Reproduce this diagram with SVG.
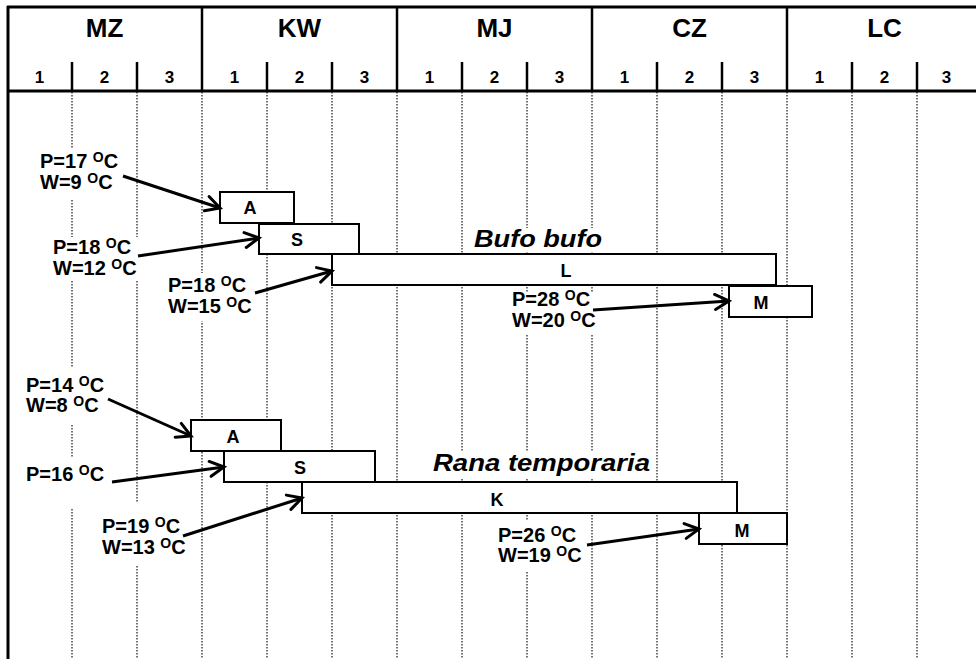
<svg xmlns="http://www.w3.org/2000/svg" width="976" height="659" viewBox="0 0 976 659">
  <style>
    .frame { stroke: #000; stroke-width: 3; fill: none; }
    .sep { stroke: #000; stroke-width: 2.5; }
    .grid { stroke: #444; stroke-width: 1.5; stroke-dasharray: 1.5 1.5; }
    .month { font-family: "Liberation Sans", Arial, sans-serif; font-weight: bold; font-size: 26px; text-anchor: middle; fill: #000; }
    .dec { font-family: "Liberation Sans", Arial, sans-serif; font-weight: bold; font-size: 17px; text-anchor: middle; fill: #000; }
    .box rect { fill: #fff; stroke: #000; stroke-width: 2; }
    .box text { font-family: "Liberation Sans", Arial, sans-serif; font-weight: bold; font-size: 18px; text-anchor: middle; fill: #000; }
    .note rect { fill: #fff; stroke: none; }
    .note text { font-family: "Liberation Sans", Arial, sans-serif; font-weight: bold; font-size: 20px; fill: #000; }
    .note .sup { font-size: 14px; }
    .species text { font-family: "Liberation Sans", Arial, sans-serif; font-weight: bold; font-style: italic; font-size: 24px; fill: #000; }
    .species rect { fill: #fff; }
    .conn line { stroke: #000; stroke-width: 3; marker-end: url(#head); }
  </style>
  <defs>
    <marker id="head" markerUnits="userSpaceOnUse" markerWidth="20" markerHeight="20" viewBox="0 0 20 20" refX="16" refY="10" orient="auto">
      <path d="M2,2.5 L16,10 L2,17.5" fill="none" stroke="#000" stroke-width="3" stroke-linecap="round" stroke-linejoin="miter"/>
    </marker>
  </defs>

  <rect width="976" height="659" fill="#fff"/>

  <!-- body grid: one dotted line per ten-day period -->
  <g id="grid">
    <line class="grid" x1="72" y1="92" x2="72" y2="659"/>
    <line class="grid" x1="137" y1="92" x2="137" y2="659"/>
    <line class="grid" x1="202" y1="92" x2="202" y2="659"/>
    <line class="grid" x1="267" y1="92" x2="267" y2="659"/>
    <line class="grid" x1="332" y1="92" x2="332" y2="659"/>
    <line class="grid" x1="397" y1="92" x2="397" y2="659"/>
    <line class="grid" x1="462" y1="92" x2="462" y2="659"/>
    <line class="grid" x1="527" y1="92" x2="527" y2="659"/>
    <line class="grid" x1="592" y1="92" x2="592" y2="659"/>
    <line class="grid" x1="657" y1="92" x2="657" y2="659"/>
    <line class="grid" x1="722" y1="92" x2="722" y2="659"/>
    <line class="grid" x1="787" y1="92" x2="787" y2="659"/>
    <line class="grid" x1="852" y1="92" x2="852" y2="659"/>
    <line class="grid" x1="917" y1="92" x2="917" y2="659"/>
  </g>

  <!-- header: months and decades -->
  <g id="header">
    <line class="frame" x1="7" y1="7" x2="976" y2="7"/>
    <line class="frame" x1="7" y1="91" x2="976" y2="91"/>
    <line class="frame" x1="8" y1="6" x2="8" y2="659"/>
    <line class="sep" x1="202" y1="7" x2="202" y2="91"/>
    <line class="sep" x1="397" y1="7" x2="397" y2="91"/>
    <line class="sep" x1="592" y1="7" x2="592" y2="91"/>
    <line class="sep" x1="787" y1="7" x2="787" y2="91"/>
    <line class="sep" x1="72" y1="62" x2="72" y2="91"/>
    <line class="sep" x1="137" y1="62" x2="137" y2="91"/>
    <line class="sep" x1="267" y1="62" x2="267" y2="91"/>
    <line class="sep" x1="332" y1="62" x2="332" y2="91"/>
    <line class="sep" x1="462" y1="62" x2="462" y2="91"/>
    <line class="sep" x1="527" y1="62" x2="527" y2="91"/>
    <line class="sep" x1="657" y1="62" x2="657" y2="91"/>
    <line class="sep" x1="722" y1="62" x2="722" y2="91"/>
    <line class="sep" x1="852" y1="62" x2="852" y2="91"/>
    <line class="sep" x1="917" y1="62" x2="917" y2="91"/>
    <text class="month" x="104.5" y="37">MZ</text>
    <text class="month" x="299.5" y="37">KW</text>
    <text class="month" x="494.5" y="37">MJ</text>
    <text class="month" x="689.5" y="37">CZ</text>
    <text class="month" x="884.5" y="37">LC</text>
    <text class="dec" x="39.5" y="83">1</text>
    <text class="dec" x="104.5" y="83">2</text>
    <text class="dec" x="169.5" y="83">3</text>
    <text class="dec" x="234.5" y="83">1</text>
    <text class="dec" x="299.5" y="83">2</text>
    <text class="dec" x="364.5" y="83">3</text>
    <text class="dec" x="429.5" y="83">1</text>
    <text class="dec" x="494.5" y="83">2</text>
    <text class="dec" x="559.5" y="83">3</text>
    <text class="dec" x="624.5" y="83">1</text>
    <text class="dec" x="689.5" y="83">2</text>
    <text class="dec" x="754.5" y="83">3</text>
    <text class="dec" x="819.5" y="83">1</text>
    <text class="dec" x="884.5" y="83">2</text>
    <text class="dec" x="946.5" y="83">3</text>
  </g>

  <!-- temperature notes -->
  <g id="note-bufo-a" class="note">
    <rect x="36" y="148" width="86" height="51"/>
    <text x="40" y="168">P=17 <tspan class="sup" dy="-6">O</tspan><tspan dy="6">C</tspan></text>
    <text x="40" y="189">W=9 <tspan class="sup" dy="-6">O</tspan><tspan dy="6">C</tspan></text>
  </g>
  <g id="note-bufo-s" class="note">
    <rect x="49" y="237" width="90" height="44"/>
    <text x="53" y="254">P=18 <tspan class="sup" dy="-6">O</tspan><tspan dy="6">C</tspan></text>
    <text x="53" y="275">W=12 <tspan class="sup" dy="-6">O</tspan><tspan dy="6">C</tspan></text>
  </g>
  <g id="note-bufo-l" class="note">
    <rect x="164" y="273" width="90" height="48"/>
    <text x="168" y="292">P=18 <tspan class="sup" dy="-6">O</tspan><tspan dy="6">C</tspan></text>
    <text x="168" y="313">W=15 <tspan class="sup" dy="-6">O</tspan><tspan dy="6">C</tspan></text>
  </g>
  <g id="note-bufo-m" class="note">
    <rect x="508" y="292" width="90" height="42"/>
    <text x="512" y="306">P=28 <tspan class="sup" dy="-6">O</tspan><tspan dy="6">C</tspan></text>
    <text x="512" y="327">W=20 <tspan class="sup" dy="-6">O</tspan><tspan dy="6">C</tspan></text>
  </g>
  <g id="note-rana-a" class="note">
    <rect x="22" y="368" width="86" height="56"/>
    <text x="26" y="392">P=14 <tspan class="sup" dy="-6">O</tspan><tspan dy="6">C</tspan></text>
    <text x="26" y="412">W=8 <tspan class="sup" dy="-6">O</tspan><tspan dy="6">C</tspan></text>
  </g>
  <g id="note-rana-s" class="note">
    <rect x="22" y="458" width="90" height="50"/>
    <text x="26" y="481">P=16 <tspan class="sup" dy="-6">O</tspan><tspan dy="6">C</tspan></text>
  </g>
  <g id="note-rana-k" class="note">
    <rect x="98" y="502" width="88" height="64"/>
    <text x="102" y="533">P=19 <tspan class="sup" dy="-6">O</tspan><tspan dy="6">C</tspan></text>
    <text x="102" y="554">W=13 <tspan class="sup" dy="-6">O</tspan><tspan dy="6">C</tspan></text>
  </g>
  <g id="note-rana-m" class="note">
    <rect x="494" y="521" width="88" height="51"/>
    <text x="498" y="542">P=26 <tspan class="sup" dy="-6">O</tspan><tspan dy="6">C</tspan></text>
    <text x="498" y="562">W=19 <tspan class="sup" dy="-6">O</tspan><tspan dy="6">C</tspan></text>
  </g>

  <!-- species titles -->
  <g id="species-bufo" class="species">
    <rect x="470" y="228" width="136" height="24"/>
    <text x="474" y="247" textLength="128" lengthAdjust="spacingAndGlyphs">Bufo bufo</text>
  </g>
  <g id="species-rana" class="species">
    <rect x="430" y="451" width="224" height="28"/>
    <text x="433" y="471" textLength="217" lengthAdjust="spacingAndGlyphs">Rana temporaria</text>
  </g>

  <!-- Bufo bufo stages -->
  <g id="bufo-A" class="box">
    <rect x="220" y="192" width="74" height="31"/>
    <text x="250" y="214">A</text>
  </g>
  <g id="bufo-S" class="box">
    <rect x="259" y="224" width="100" height="30"/>
    <text x="297" y="246">S</text>
  </g>
  <g id="bufo-L" class="box">
    <rect x="332" y="254" width="444" height="31"/>
    <text x="566" y="277">L</text>
  </g>
  <g id="bufo-M" class="box">
    <rect x="729" y="286" width="83" height="31"/>
    <text x="761" y="309">M</text>
  </g>

  <!-- Rana temporaria stages -->
  <g id="rana-A" class="box">
    <rect x="191" y="420" width="90" height="31"/>
    <text x="233" y="443">A</text>
  </g>
  <g id="rana-S" class="box">
    <rect x="224" y="451" width="151" height="31"/>
    <text x="300" y="474">S</text>
  </g>
  <g id="rana-K" class="box">
    <rect x="302" y="482" width="435" height="31"/>
    <text x="497" y="506">K</text>
  </g>
  <g id="rana-M" class="box">
    <rect x="699" y="513" width="88" height="31"/>
    <text x="742" y="537">M</text>
  </g>

  <!-- arrows from notes to stage starts -->
  <g id="connectors" class="conn">
    <line x1="123" y1="176" x2="220" y2="208"/>
    <line x1="138" y1="256" x2="259" y2="238"/>
    <line x1="255" y1="293" x2="332" y2="271"/>
    <line x1="593" y1="310" x2="729" y2="301"/>
    <line x1="108" y1="399" x2="191" y2="436"/>
    <line x1="112" y1="482" x2="224" y2="467"/>
    <line x1="183" y1="536" x2="302" y2="498"/>
    <line x1="587" y1="545" x2="699" y2="529"/>
  </g>
</svg>
